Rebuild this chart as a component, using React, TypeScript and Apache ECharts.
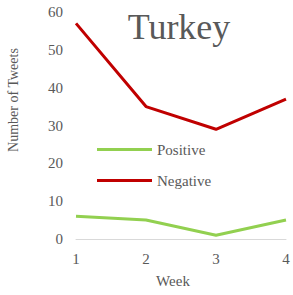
import React, { useEffect, useRef } from "react";
import * as echarts from "echarts";

const weeks = ["1", "2", "3", "4"];
const positive = [6, 5, 1, 5];
const negative = [57, 35, 29, 37];
const titleText = "Turkey";
const yName = "Number of Tweets";
const xName = "Week";

export default function App() {
  const ref = useRef<HTMLDivElement>(null);
  useEffect(() => {
    if (!ref.current) return;
    const chart = echarts.init(ref.current, null, { renderer: "svg" });
    const font = "'Liberation Serif', 'Times New Roman', serif";
    const gray = "#595959";
    chart.setOption({
      animation: false,
      textStyle: { fontFamily: font },
      title: {
        text: titleText,
        left: 174,
        top: 4,
        textAlign: "center",
        textStyle: { fontFamily: font, fontSize: 36, fontWeight: "normal", color: gray },
      },
      legend: {
        orient: "vertical",
        left: 92,
        top: 137,
        itemWidth: 55,
        itemHeight: 3,
        itemGap: 16,
        icon: "rect",
        textStyle: { fontFamily: font, fontSize: 15, color: gray },
        data: ["Positive", "Negative"],
      },
      grid: { left: 76, right: 7, top: 12, bottom: 56 },
      xAxis: {
        type: "category",
        data: weeks,
        boundaryGap: false,
        axisLine: { lineStyle: { color: "#d9d9d9", width: 1 } },
        axisTick: { show: false },
        axisLabel: { fontFamily: font, fontSize: 15, color: gray, margin: 12 },
      },
      yAxis: {
        type: "value",
        min: 0,
        max: 60,
        interval: 10,
        splitLine: { show: false },
        axisLine: { show: false },
        axisTick: { show: false },
        axisLabel: { fontFamily: font, fontSize: 15, color: gray, margin: 13 },
      },
      graphic: [
        {
          type: "text",
          x: 13,
          y: 100,
          rotation: Math.PI / 2,
          style: {
            text: yName,
            font: `14px ${font}`,
            fill: gray,
            textAlign: "center",
            textVerticalAlign: "middle",
          },
        },
        {
          type: "text",
          x: 173,
          y: 281,
          style: {
            text: xName,
            font: `15px ${font}`,
            fill: gray,
            textAlign: "center",
            textVerticalAlign: "middle",
          },
        },
      ],
      series: [
        {
          name: "Positive",
          type: "line",
          data: positive,
          symbol: "none",
          lineStyle: { color: "#92d050", width: 3 },
          itemStyle: { color: "#92d050" },
        },
        {
          name: "Negative",
          type: "line",
          data: negative,
          symbol: "none",
          lineStyle: { color: "#c00000", width: 3 },
          itemStyle: { color: "#c00000" },
        },
      ],
    });
    return () => chart.dispose();
  }, []);
  return <div ref={ref} style={{ width: 293, height: 295, position: "absolute", left: 0, top: 0 }} />;
}
